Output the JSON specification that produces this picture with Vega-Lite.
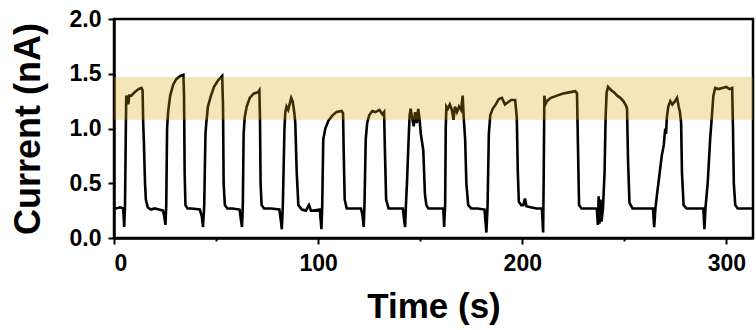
{
  "$schema": "https://vega.github.io/schema/vega-lite/v6.json",
  "autosize": "none",
  "width": 639,
  "height": 219,
  "padding": {"left": 114, "top": 19, "right": 3, "bottom": 92},
  "background": "white",
  "config": {
    "view": {"stroke": "black", "strokeWidth": 2.5},
    "font": "Liberation Sans",
    "axis": {
      "grid": false,
      "domainColor": "black",
      "domainWidth": 2.5,
      "tickColor": "black",
      "tickWidth": 2,
      "labelFont": "Liberation Sans",
      "labelFontSize": 23,
      "labelFontWeight": "bold",
      "labelColor": "black",
      "titleFont": "Liberation Sans",
      "titleFontWeight": "bold",
      "titleColor": "black"
    }
  },
  "datasets": {
    "band": [{"lo": 1.08, "hi": 1.47}],
    "trace": [
      {"t": 0, "i": 0.28}, {"t": 1, "i": 0.27}, {"t": 3, "i": 0.28}, {"t": 4.5, "i": 0.27}, {"t": 5, "i": 0.1},
      {"t": 5.4, "i": 0.3}, {"t": 5.8, "i": 1.0}, {"t": 6.0, "i": 1.3}, {"t": 6.5, "i": 1.28}, {"t": 7, "i": 1.22},
      {"t": 7.5, "i": 1.3}, {"t": 8.5, "i": 1.3}, {"t": 10, "i": 1.33}, {"t": 12, "i": 1.36}, {"t": 13.5, "i": 1.37},
      {"t": 14, "i": 1.35}, {"t": 14.3, "i": 1.05}, {"t": 14.6, "i": 0.9}, {"t": 15.2, "i": 0.5}, {"t": 15.6, "i": 0.35},
      {"t": 16.5, "i": 0.28}, {"t": 18, "i": 0.26}, {"t": 20, "i": 0.27}, {"t": 22, "i": 0.26}, {"t": 24, "i": 0.25},
      {"t": 24.6, "i": 0.2}, {"t": 25.2, "i": 0.12}, {"t": 25.6, "i": 0.3}, {"t": 26, "i": 1.0}, {"t": 26.5, "i": 1.15},
      {"t": 27.5, "i": 1.3}, {"t": 29, "i": 1.4}, {"t": 30.5, "i": 1.45}, {"t": 32.5, "i": 1.48}, {"t": 34, "i": 1.49},
      {"t": 34.3, "i": 1.3}, {"t": 34.6, "i": 0.6}, {"t": 35, "i": 0.3}, {"t": 36, "i": 0.27}, {"t": 38, "i": 0.27},
      {"t": 42, "i": 0.26}, {"t": 43, "i": 0.2}, {"t": 43.6, "i": 0.1}, {"t": 44.2, "i": 0.3}, {"t": 44.8, "i": 0.95},
      {"t": 45.2, "i": 1.05}, {"t": 46, "i": 1.2}, {"t": 47.5, "i": 1.3}, {"t": 49, "i": 1.38}, {"t": 51, "i": 1.44},
      {"t": 53, "i": 1.48}, {"t": 53.4, "i": 1.2}, {"t": 53.7, "i": 0.5}, {"t": 54.3, "i": 0.3}, {"t": 55.5, "i": 0.27},
      {"t": 58, "i": 0.27}, {"t": 61.5, "i": 0.26}, {"t": 62.3, "i": 0.15}, {"t": 62.7, "i": 0.1}, {"t": 63.1, "i": 0.3},
      {"t": 63.5, "i": 0.95}, {"t": 64, "i": 1.1}, {"t": 65, "i": 1.2}, {"t": 66.5, "i": 1.28}, {"t": 68.5, "i": 1.32},
      {"t": 70.5, "i": 1.33}, {"t": 71.2, "i": 1.35}, {"t": 71.5, "i": 1.1}, {"t": 71.8, "i": 0.5}, {"t": 72.3, "i": 0.3},
      {"t": 73.5, "i": 0.27}, {"t": 77, "i": 0.27}, {"t": 81, "i": 0.26}, {"t": 81.8, "i": 0.15}, {"t": 82.2, "i": 0.08},
      {"t": 82.7, "i": 0.3}, {"t": 83.5, "i": 1.0}, {"t": 83.9, "i": 1.15}, {"t": 84.5, "i": 1.2}, {"t": 85.3, "i": 1.17},
      {"t": 86, "i": 1.22}, {"t": 86.8, "i": 1.28}, {"t": 87.5, "i": 1.25}, {"t": 88.3, "i": 1.15}, {"t": 88.8, "i": 1.05},
      {"t": 89.5, "i": 0.6}, {"t": 90.3, "i": 0.3}, {"t": 92, "i": 0.26}, {"t": 94, "i": 0.25}, {"t": 95.5, "i": 0.3},
      {"t": 96.5, "i": 0.25}, {"t": 98, "i": 0.25}, {"t": 100.8, "i": 0.26}, {"t": 101.3, "i": 0.15}, {"t": 101.6, "i": 0.08},
      {"t": 102, "i": 0.3}, {"t": 102.5, "i": 0.9}, {"t": 103.5, "i": 1.0}, {"t": 105, "i": 1.07}, {"t": 107, "i": 1.12},
      {"t": 109, "i": 1.15}, {"t": 111.5, "i": 1.16}, {"t": 112.2, "i": 1.14}, {"t": 112.5, "i": 0.8}, {"t": 113, "i": 0.35},
      {"t": 114, "i": 0.27}, {"t": 117, "i": 0.27}, {"t": 121, "i": 0.27}, {"t": 121.8, "i": 0.2}, {"t": 122.3, "i": 0.1},
      {"t": 122.7, "i": 0.3}, {"t": 123.3, "i": 0.9}, {"t": 124, "i": 1.05}, {"t": 125, "i": 1.12}, {"t": 126.5, "i": 1.16},
      {"t": 128, "i": 1.15}, {"t": 130, "i": 1.17}, {"t": 131.5, "i": 1.13}, {"t": 132.3, "i": 1.15}, {"t": 132.7, "i": 0.8},
      {"t": 133.3, "i": 0.35}, {"t": 134.5, "i": 0.27}, {"t": 138, "i": 0.27}, {"t": 141.5, "i": 0.27}, {"t": 142.2, "i": 0.15},
      {"t": 142.6, "i": 0.1}, {"t": 143, "i": 0.3}, {"t": 143.5, "i": 0.5}, {"t": 144.2, "i": 0.85}, {"t": 144.8, "i": 1.12},
      {"t": 145.3, "i": 1.18}, {"t": 146, "i": 1.1}, {"t": 146.8, "i": 1.02}, {"t": 147.5, "i": 1.15}, {"t": 148.3, "i": 1.05},
      {"t": 149, "i": 1.18}, {"t": 149.6, "i": 1.1}, {"t": 150.3, "i": 0.95}, {"t": 151.5, "i": 0.8}, {"t": 152.3, "i": 0.4},
      {"t": 153, "i": 0.3}, {"t": 154, "i": 0.27}, {"t": 158, "i": 0.27}, {"t": 161.3, "i": 0.27}, {"t": 161.7, "i": 0.1},
      {"t": 162.2, "i": 0.3}, {"t": 162.5, "i": 1.0}, {"t": 162.8, "i": 1.2}, {"t": 163.5, "i": 1.18}, {"t": 164.5, "i": 1.22},
      {"t": 165.5, "i": 1.17}, {"t": 166.3, "i": 1.08}, {"t": 167, "i": 1.2}, {"t": 168, "i": 1.15}, {"t": 169, "i": 1.2},
      {"t": 170, "i": 1.17}, {"t": 170.8, "i": 1.3}, {"t": 171.3, "i": 1.1}, {"t": 172, "i": 0.9}, {"t": 172.6, "i": 0.5},
      {"t": 173.5, "i": 0.3}, {"t": 175, "i": 0.27}, {"t": 178, "i": 0.27}, {"t": 181.5, "i": 0.26}, {"t": 182.4, "i": 0.05},
      {"t": 183, "i": 0.3}, {"t": 183.6, "i": 0.95}, {"t": 184.3, "i": 1.12}, {"t": 185.5, "i": 1.18}, {"t": 187, "i": 1.22},
      {"t": 188.5, "i": 1.27}, {"t": 190, "i": 1.28}, {"t": 191.5, "i": 1.22}, {"t": 193, "i": 1.24}, {"t": 194.5, "i": 1.26},
      {"t": 196.5, "i": 1.26}, {"t": 197.3, "i": 1.1}, {"t": 197.8, "i": 0.6}, {"t": 198.3, "i": 0.33}, {"t": 199.5, "i": 0.3},
      {"t": 200.5, "i": 0.3}, {"t": 201.3, "i": 0.36}, {"t": 202, "i": 0.29}, {"t": 204, "i": 0.28}, {"t": 207, "i": 0.27},
      {"t": 209.6, "i": 0.27}, {"t": 210.2, "i": 0.05}, {"t": 210.5, "i": 0.6}, {"t": 210.8, "i": 1.3}, {"t": 211.3, "i": 1.22},
      {"t": 212, "i": 1.25}, {"t": 214, "i": 1.28}, {"t": 217, "i": 1.3}, {"t": 220, "i": 1.32}, {"t": 223, "i": 1.33},
      {"t": 226, "i": 1.34}, {"t": 226.8, "i": 1.32}, {"t": 227.3, "i": 0.8}, {"t": 227.8, "i": 0.3}, {"t": 229, "i": 0.27},
      {"t": 233, "i": 0.27}, {"t": 236.5, "i": 0.27}, {"t": 237, "i": 0.12}, {"t": 237.4, "i": 0.38}, {"t": 237.8, "i": 0.13},
      {"t": 238.3, "i": 0.35}, {"t": 238.8, "i": 0.15}, {"t": 239.5, "i": 0.27}, {"t": 240.3, "i": 0.6}, {"t": 240.8, "i": 1.1},
      {"t": 241.3, "i": 1.33}, {"t": 242, "i": 1.38}, {"t": 243.5, "i": 1.35}, {"t": 245, "i": 1.33}, {"t": 246.5, "i": 1.3},
      {"t": 248, "i": 1.28}, {"t": 249.5, "i": 1.25}, {"t": 250.8, "i": 1.21}, {"t": 251.3, "i": 1.18}, {"t": 251.8, "i": 0.7},
      {"t": 252.5, "i": 0.32}, {"t": 254, "i": 0.27}, {"t": 258, "i": 0.27}, {"t": 264, "i": 0.27}, {"t": 264.6, "i": 0.1},
      {"t": 265.2, "i": 0.27}, {"t": 266, "i": 0.4}, {"t": 267, "i": 0.55}, {"t": 268.3, "i": 0.75}, {"t": 269.3, "i": 0.85},
      {"t": 270, "i": 1.0}, {"t": 270.4, "i": 0.95}, {"t": 270.8, "i": 1.1}, {"t": 271.5, "i": 1.2}, {"t": 272.5, "i": 1.25},
      {"t": 273.5, "i": 1.22}, {"t": 274.8, "i": 1.25}, {"t": 275.8, "i": 1.28}, {"t": 276.6, "i": 1.2}, {"t": 277.2, "i": 1.15},
      {"t": 277.8, "i": 1.05}, {"t": 278.2, "i": 0.6}, {"t": 279, "i": 0.3}, {"t": 280.5, "i": 0.27}, {"t": 284, "i": 0.27},
      {"t": 288.7, "i": 0.27}, {"t": 289.2, "i": 0.08}, {"t": 289.7, "i": 0.27}, {"t": 290.8, "i": 0.5}, {"t": 292, "i": 0.9},
      {"t": 292.8, "i": 1.1}, {"t": 293.6, "i": 1.3}, {"t": 294.5, "i": 1.37}, {"t": 296, "i": 1.36}, {"t": 298, "i": 1.37},
      {"t": 300, "i": 1.38}, {"t": 301.5, "i": 1.36}, {"t": 302.8, "i": 1.37}, {"t": 303.2, "i": 1.0}, {"t": 303.6, "i": 0.5},
      {"t": 304.3, "i": 0.3}, {"t": 305.5, "i": 0.27}, {"t": 309, "i": 0.27}, {"t": 313, "i": 0.27}
    ]
  },
  "layer": [
    {
      "data": {"name": "trace"},
      "mark": {"type": "line", "color": "black", "strokeWidth": 2.6, "clip": true},
      "encoding": {
        "x": {
          "field": "t", "type": "quantitative",
          "scale": {"domain": [0, 313], "nice": false, "zero": false},
          "axis": {
            "title": "Time (s)", "titleFontSize": 35,
            "values": [0, 50, 100, 150, 200, 250, 300],
            "labelExpr": "datum.value % 100 === 0 ? datum.label : ''",
            "tickSize": {"condition": {"test": "datum.value % 100 === 0", "value": 6}, "value": 3},
            "labelPadding": 8, "titlePadding": 14
          }
        },
        "y": {
          "field": "i", "type": "quantitative",
          "scale": {"domain": [0, 2], "nice": false},
          "axis": {
            "title": "Current (nA)", "titleFontSize": 36,
            "values": [0, 0.25, 0.5, 0.75, 1, 1.25, 1.5, 1.75, 2],
            "format": ".1f",
            "labelExpr": "(datum.value * 4) % 2 === 0 ? datum.label : ''",
            "tickSize": {"condition": {"test": "(datum.value * 4) % 2 === 0", "value": 6}, "value": 3},
            "labelPadding": 7, "titlePadding": 22
          }
        }
      }
    },
    {
      "data": {"name": "band"},
      "mark": {"type": "rect", "color": "#D7A500", "opacity": 0.28},
      "encoding": {
        "x": {"datum": 0, "type": "quantitative"},
        "x2": {"datum": 313},
        "y": {"field": "lo", "type": "quantitative"},
        "y2": {"field": "hi"}
      }
    }
  ]
}
